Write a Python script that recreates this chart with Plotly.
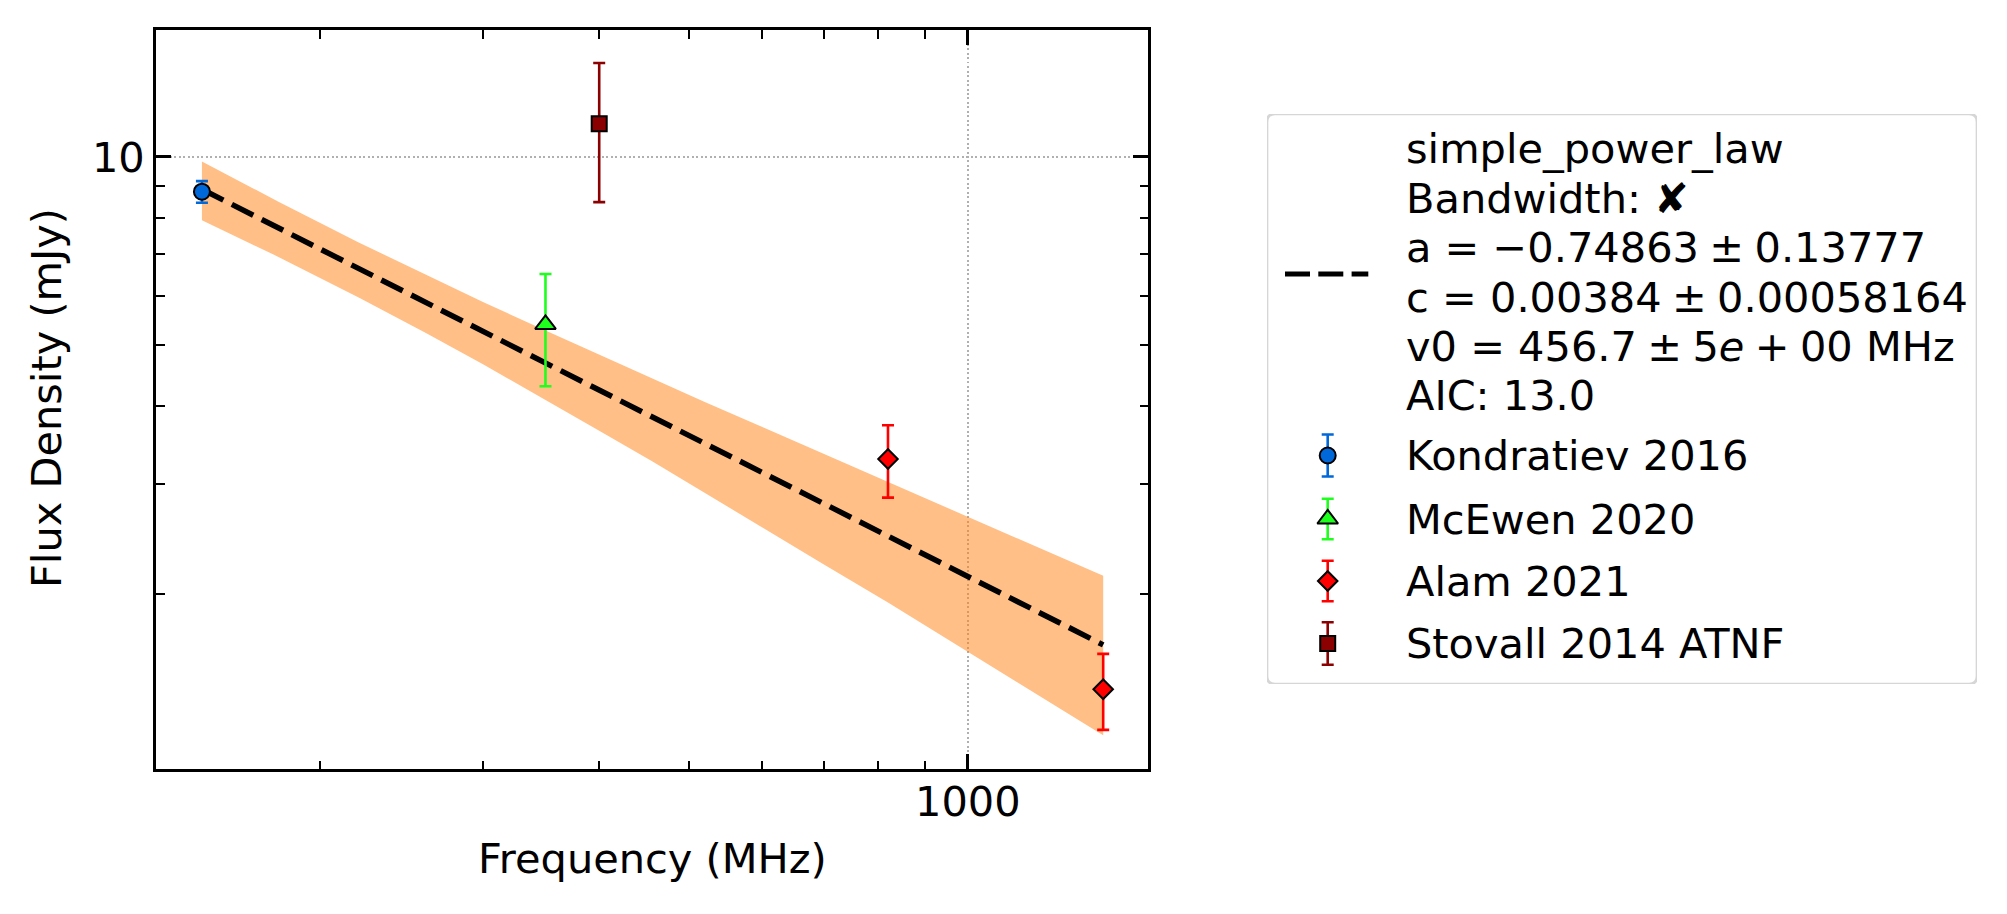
import plotly.graph_objects as go

W, H = 2007, 914
FONT = "DejaVu Sans"
FS = 41.5

# ---------------- data ----------------
kond_freq = [149]
kond_flux = [8.80]
kond_err = [0.35]

mcewen_freq = [350]
mcewen_flux = [5.40]
mcewen_err = [1.10]

alam_freq = [820, 1400]
alam_flux = [3.29, 1.41]
alam_err = [0.436, 0.196]

stovall_freq = [400]
stovall_flux = [11.30]
stovall_err = [2.83]

fit_freq = [149, 180, 220, 260, 300, 350, 400, 456.7, 520, 600, 700, 820, 1000, 1200, 1400]
fit_flux = [8.88, 7.71, 6.63, 5.86, 5.26, 4.69, 4.24, 3.84, 3.48, 3.13, 2.79, 2.48, 2.14, 1.86, 1.66]
band_upper = [9.84, 8.49, 7.30, 6.48, 5.86, 5.28, 4.83, 4.42, 4.06, 3.70, 3.35, 3.02, 2.66, 2.36, 2.14]
band_lower = [7.92, 6.93, 5.96, 5.23, 4.66, 4.09, 3.65, 3.26, 2.91, 2.56, 2.23, 1.94, 1.62, 1.37, 1.19]

x_major = [1000]
x_minor = [200, 300, 400, 500, 600, 700, 800, 900]
y_major = [10]
y_minor = [2, 3, 4, 5, 6, 7, 8, 9]

SP = "\u2005"  # medium math space around binary operators
fit_label_lines = [
    "simple_power_law",
    "Bandwidth: \u2718",
    f"a = \u22120.74863{SP}\u00b1{SP}0.13777",
    f"c = 0.00384{SP}\u00b1{SP}0.00058164",
    f"v0 = 456.7{SP}\u00b1{SP}5<i>e</i>{SP}+{SP}00 MHz",
    "AIC: 13.0",
]
series_labels = ["Kondratiev 2016", "McEwen 2020", "Alam 2021", "Stovall 2014 ATNF"]

# ---------------- layout geometry (pixels) ----------------
PL, PR, PT, PB = 156, 1148, 30, 769
LL, LR, LT, LB = 1267, 1977, 114, 684
LEG_TEXT_X = 1404
LEG_KEY_X = 1327.7
FIT_LINE_Y = [149, 198.3, 247.6, 297, 346.2, 395.5]
ENTRY_Y = [455.5, 519, 581, 643.5]
KEY_ERR = [21, 20.3, 20.3, 21.2]

BLUE = "#0068d9"
GREEN = "#1eff1e"
RED = "#ff0000"
DRED = "#8b0000"
ORANGE_FILL = "rgba(255,127,14,0.5)"

styles = [
    dict(color=BLUE, symbol="circle", size=16),
    dict(color=GREEN, symbol="triangle-up", size=18),
    dict(color=RED, symbol="diamond", size=15),
    dict(color=DRED, symbol="square", size=15),
]

fig = go.Figure()

# uncertainty band
fig.add_trace(go.Scatter(
    x=fit_freq + fit_freq[::-1],
    y=band_upper + band_lower[::-1],
    fill="toself", fillcolor=ORANGE_FILL, line=dict(width=0),
    mode="lines", hoverinfo="skip", showlegend=False,
))
# fit line
fig.add_trace(go.Scatter(
    x=fit_freq, y=fit_flux, mode="lines",
    line=dict(color="black", width=5.5, dash="24px,9.5px"),
    showlegend=False, name="simple_power_law",
))

series = [
    (kond_freq, kond_flux, kond_err),
    (mcewen_freq, mcewen_flux, mcewen_err),
    (alam_freq, alam_flux, alam_err),
    (stovall_freq, stovall_flux, stovall_err),
]
for (fx, fy, fe), st, lab in zip(series, styles, series_labels):
    fig.add_trace(go.Scatter(
        x=fx, y=fy, mode="markers", name=lab, showlegend=False,
        marker=dict(symbol=st["symbol"], size=st["size"], color=st["color"],
                    line=dict(color="black", width=2)),
        error_y=dict(type="data", array=fe, color=st["color"], thickness=2.6, width=6),
    ))

# ---------------- hand-built legend on an auxiliary axis ----------------
fig.add_trace(go.Scatter(
    x=[1285, 1368.3], y=[274, 274], mode="lines", xaxis="x2", yaxis="y2",
    line=dict(color="black", width=5, dash="25px,8.3px"), showlegend=False, hoverinfo="skip",
))
for st, yk, ek in zip(styles, ENTRY_Y, KEY_ERR):
    fig.add_trace(go.Scatter(
        x=[LEG_KEY_X], y=[yk], mode="markers", xaxis="x2", yaxis="y2",
        marker=dict(symbol=st["symbol"], size=st["size"], color=st["color"],
                    line=dict(color="black", width=2)),
        error_y=dict(type="data", array=[ek], color=st["color"], thickness=2.6, width=6),
        showlegend=False, hoverinfo="skip",
    ))

r = 8
frame_path = (
    f"M {LL + r},{LT} L {LR - r},{LT} Q {LR},{LT} {LR},{LT + r} "
    f"L {LR},{LB - r} Q {LR},{LB} {LR - r},{LB} "
    f"L {LL + r},{LB} Q {LL},{LB} {LL},{LB - r} "
    f"L {LL},{LT + r} Q {LL},{LT} {LL + r},{LT} Z"
)
shapes = [dict(type="path", path=frame_path, xref="x2", yref="y2",
               line=dict(color="#d6d6d6", width=2.7), fillcolor="white", layer="below")]

annotations = []
def txt(x, y, s, **kw):
    d = dict(x=x / W, y=1 - y / H, xref="paper", yref="paper", text=s, showarrow=False,
             font=dict(family=FONT, size=FS, color="black"), xanchor="left", yanchor="middle")
    d.update(kw)
    annotations.append(d)

for s, yy in zip(fit_label_lines, FIT_LINE_Y):
    txt(LEG_TEXT_X, yy, s)
for s, yy in zip(series_labels, ENTRY_Y):
    txt(LEG_TEXT_X, yy, s)

# axis titles
txt((PL + PR) / 2, 858, "Frequency (MHz)", xanchor="center")
txt(46, 398, "Flux Density (mJy)", xanchor="center", textangle=-90)

axis_common = dict(
    type="log", showline=True, linecolor="black", linewidth=3, mirror="ticks",
    ticks="inside", ticklen=15, tickwidth=3, tickcolor="black",
    tickfont=dict(family=FONT, size=FS, color="black"),
    showgrid=True, gridcolor="#b0b0b0", gridwidth=1.6, griddash="2px,2.5px",
    zeroline=False, tickmode="array",
)

fig.update_layout(
    width=W, height=H, margin=dict(l=0, r=0, t=0, b=0),
    paper_bgcolor="white", plot_bgcolor="white",
    font=dict(family=FONT, size=FS, color="black"),
    showlegend=False,
    xaxis=dict(
        domain=[PL / W, PR / W], range=[2.1236, 3.1945], anchor="y",
        tickvals=x_major, ticktext=[str(v) for v in x_major], ticklabelstandoff=-6,
        minor=dict(tickmode="array", tickvals=x_minor, ticks="inside", ticklen=8.5,
                   tickwidth=2.3, tickcolor="black", showgrid=False),
        **axis_common,
    ),
    yaxis=dict(
        domain=[1 - PB / H, 1 - PT / H], range=[0.0217, 1.2030], anchor="x",
        tickvals=y_major, ticktext=[str(v) for v in y_major],
        minor=dict(tickmode="array", tickvals=y_minor, ticks="inside", ticklen=8.5,
                   tickwidth=2.3, tickcolor="black", showgrid=False),
        **axis_common,
    ),
    xaxis2=dict(domain=[LL / W, LR / W], range=[LL, LR], anchor="y2", visible=False,
                fixedrange=True),
    yaxis2=dict(domain=[1 - LB / H, 1 - LT / H], range=[LB, LT], anchor="x2", visible=False,
                fixedrange=True),
    shapes=shapes,
    annotations=annotations,
)

fig.write_html("out.html")
